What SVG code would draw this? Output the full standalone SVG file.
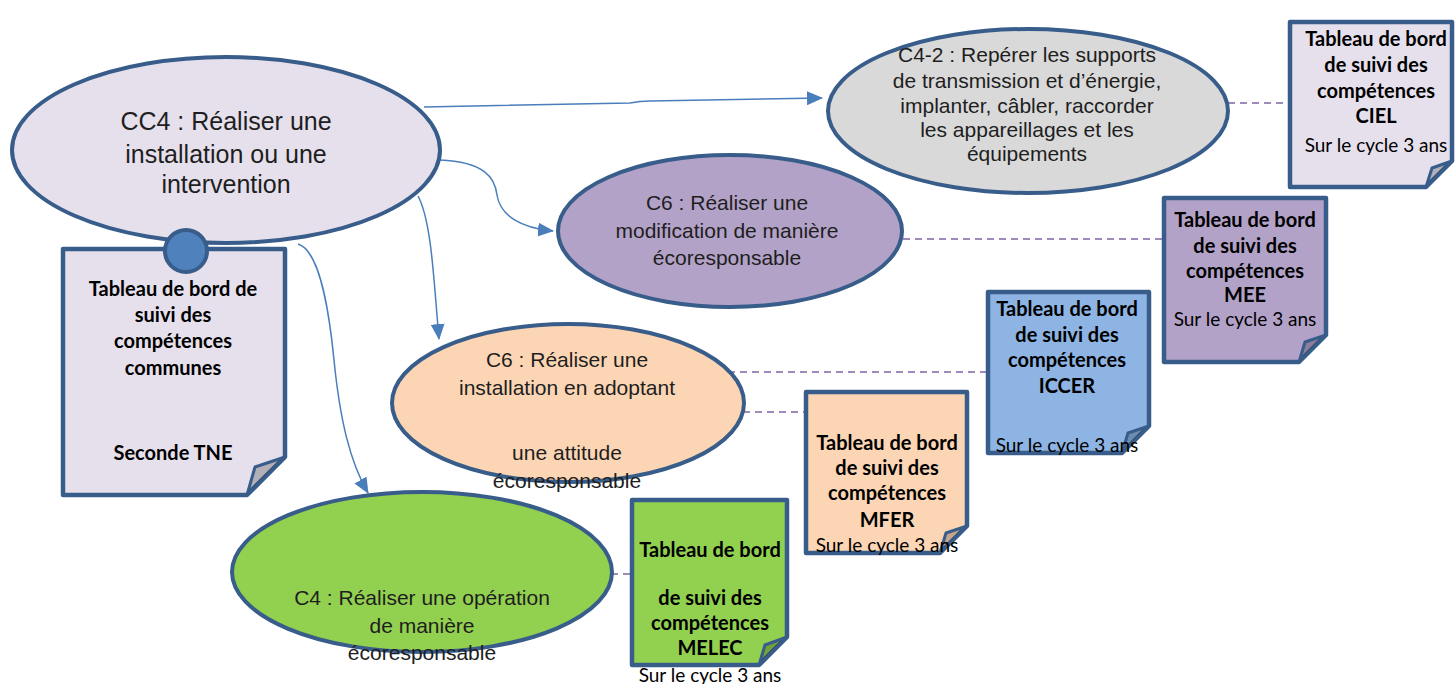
<svg xmlns="http://www.w3.org/2000/svg" width="1455" height="684" viewBox="0 0 1455 684">
<style>
.ell{stroke:#385d8a;stroke-width:4}
.doc{stroke:#385d8a;stroke-width:4.5;stroke-linejoin:round}
.fold{fill:#000;fill-opacity:.22;stroke:#385d8a;stroke-width:3;stroke-linejoin:round}
.dt{font-family:Lato,"Liberation Sans",sans-serif;font-weight:bold;font-size:20px;text-anchor:middle;fill:#000}
.dr{font-family:Lato,"Liberation Sans",sans-serif;font-size:19px;text-anchor:middle;fill:#000}
.et{font-family:"Liberation Sans",Arial,sans-serif;font-size:21px;text-anchor:middle;fill:#1e1e1e}
.big{font-size:25px}
.arr{fill:none;stroke:#4a7ebb;stroke-width:1.5;marker-end:url(#ah)}
.dash{fill:none;stroke:#8064a2;stroke-width:1.6;stroke-dasharray:7 5}
</style>
<defs>
<marker id="ah" markerUnits="userSpaceOnUse" markerWidth="16" markerHeight="14" refX="15" refY="7" orient="auto">
<path d="M0,0 L16,7 L0,14 Z" fill="#4a7ebb"/>
</marker>
</defs>
<rect width="1455" height="684" fill="#fff"/>
<g id="connectors">
<path class="arr" d="M424,107 L630,103 Q640,101 650,101 L822,98"/>
<path class="arr" d="M440,160 C485,162 495,178 497,195 C500,215 520,228 553,231"/>
<path class="arr" d="M418,196 C432,222 434,285 439,339"/>
<path class="arr" d="M298,244 C318,250 328,300 334,360 C340,420 350,462 368,493"/>
<path class="dash" d="M1228,103 H1289"/>
<path class="dash" d="M903,239 H1162"/>
<path class="dash" d="M728,372 H986"/>
<path class="dash" d="M743,412 H804"/>
<path class="dash" d="M611,574 H631"/>
</g>
<g id="node-cc4">
<ellipse class="ell" cx="226" cy="150" rx="214" ry="93" fill="#e6e0ec" stroke-width="4.5"/>
<text class="et big" x="226" y="130">CC4 : Réaliser une</text>
<text class="et big" x="226" y="163">installation ou une</text>
<text class="et big" x="226" y="193">intervention</text>
</g>
<g id="node-commune">
<path class="doc" fill="#e6e0ec" d="M63,249 H285 V457 L247,495 H63 Z"/>
<polygon class="fold" points="247,495 285,457 255,467"/>
<text class="dt" x="173" y="296">Tableau de bord de</text>
<text class="dt" x="173" y="322">suivi des</text>
<text class="dt" x="173" y="348">compétences</text>
<text class="dt" x="173" y="375">communes</text>
<text class="dt" x="173" y="460">Seconde TNE</text>
</g>
<g id="node-circle">
<circle cx="186" cy="251" r="21" fill="#4f81bd" stroke="#385d8a" stroke-width="4"/>
</g>
<g id="node-c42">
<ellipse class="ell" cx="1028" cy="111" rx="200" ry="82" fill="#d9d9d9"/>
<text class="et" x="1027" y="62">C4-2 : Repérer les supports</text>
<text class="et" x="1027" y="88">de transmission et d’énergie,</text>
<text class="et" x="1027" y="113">implanter, câbler, raccorder</text>
<text class="et" x="1027" y="137">les appareillages et les</text>
<text class="et" x="1027" y="161">équipements</text>
</g>
<g id="node-ciel">
<path class="doc" fill="#e6e0ec" d="M1290,22 H1452 V161 L1426,187 H1290 Z"/>
<polygon class="fold" points="1426,187 1452,161 1432,168"/>
<text class="dt" x="1376" y="46">Tableau de bord</text>
<text class="dt" x="1376" y="72">de suivi des</text>
<text class="dt" x="1376" y="98">compétences</text>
<text class="dt" x="1376" y="123">CIEL</text>
<text class="dr" x="1376" y="152">Sur le cycle 3 ans</text>
</g>
<g id="node-c6mod">
<ellipse class="ell" cx="730" cy="231" rx="172" ry="76" fill="#b3a2c7"/>
<text class="et" x="727" y="210">C6 : Réaliser une</text>
<text class="et" x="727" y="238">modification de manière</text>
<text class="et" x="727" y="265">écoresponsable</text>
</g>
<g id="node-mee">
<path class="doc" fill="#b3a2c7" d="M1164,198 H1326 V335 L1299,362 H1164 Z"/>
<polygon class="fold" points="1299,362 1326,335 1305,342"/>
<text class="dt" x="1245" y="227">Tableau de bord</text>
<text class="dt" x="1245" y="253">de suivi des</text>
<text class="dt" x="1245" y="278">compétences</text>
<text class="dt" x="1245" y="302">MEE</text>
<text class="dr" x="1245" y="326">Sur le cycle 3 ans</text>
</g>
<g id="node-c4op">
<ellipse class="ell" cx="422" cy="572" rx="190" ry="80" fill="#92d050"/>
<text class="et" x="422" y="605">C4 : Réaliser une opération</text>
<text class="et" x="422" y="633">de manière</text>
<text class="et" x="422" y="660">écoresponsable</text>
</g>
<g id="node-c6inst">
<ellipse class="ell" cx="568" cy="403" rx="176" ry="79" fill="#fcd5b5"/>
<text class="et" x="567" y="367">C6 : Réaliser une</text>
<text class="et" x="567" y="395">installation en adoptant</text>
<text class="et" x="567" y="460">une attitude</text>
<text class="et" x="567" y="488">écoresponsable</text>
</g>
<g id="node-iccer">
<path class="doc" fill="#8eb4e3" d="M988,292 H1149 V426 L1122,453 H988 Z"/>
<polygon class="fold" points="1122,453 1149,426 1128,433"/>
<text class="dt" x="1067" y="316">Tableau de bord</text>
<text class="dt" x="1067" y="342">de suivi des</text>
<text class="dt" x="1067" y="367">compétences</text>
<text class="dt" x="1067" y="393">ICCER</text>
<text class="dr" x="1067" y="452">Sur le cycle 3 ans</text>
</g>
<g id="node-mfer">
<path class="doc" fill="#fcd5b5" d="M806,392 H967 V526 L940,553 H806 Z"/>
<polygon class="fold" points="940,553 967,526 946,533"/>
<text class="dt" x="887" y="450">Tableau de bord</text>
<text class="dt" x="887" y="475">de suivi des</text>
<text class="dt" x="887" y="500">compétences</text>
<text class="dt" x="887" y="527">MFER</text>
<text class="dr" x="887" y="552">Sur le cycle 3 ans</text>
</g>
<g id="node-melec">
<path class="doc" fill="#92d050" d="M632,500 H787 V637 L759,665 H632 Z"/>
<polygon class="fold" points="759,665 787,637 765,645"/>
<text class="dt" x="710" y="557">Tableau de bord</text>
<text class="dt" x="710" y="605">de suivi des</text>
<text class="dt" x="710" y="630">compétences</text>
<text class="dt" x="710" y="655">MELEC</text>
<text class="dr" x="710" y="682">Sur le cycle 3 ans</text>
</g>
</svg>
